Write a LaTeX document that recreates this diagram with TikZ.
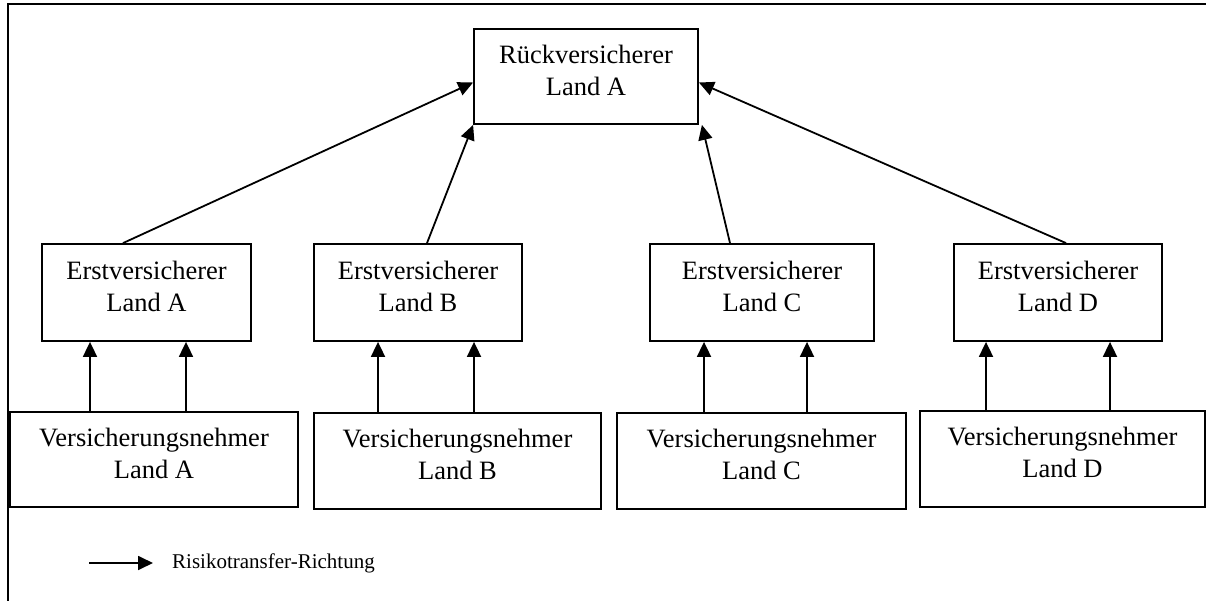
\documentclass[tikz,border=0pt]{standalone}
\usepackage{fontspec}
\setmainfont{Liberation Serif}
\usepackage{tikz}
\usetikzlibrary{arrows.meta, positioning, calc}

\begin{document}
\begin{tikzpicture}[
    x=1pt, y=-1pt,
    font=\fontsize{26.5}{32}\selectfont,
    >={Triangle[length=15pt, width=14pt]},
    box/.style={draw, line width=1.8pt, inner sep=0pt, align=center, text depth=13pt},
    rbox/.style={box, minimum width=224pt, minimum height=95pt},
    ebox/.style={box, minimum width=208pt, minimum height=97pt},
    vbox/.style={box, minimum width=287pt, minimum height=96pt},
    line/.style={->, line width=1.8pt},
    frame/.style={line width=2pt},
    legendtext/.style={font=\fontsize{21}{25}\selectfont, inner sep=0pt, anchor=west}
]
\useasboundingbox (0,0) rectangle (1206,601);

% ===== FRAME =====
\draw[frame] (8,601) -- (8,4) -- (1206,4);

% ===== TOP =====
\node[rbox] (rueck) at (586,76.5) {R\"uckversicherer\\Land A};

% ===== ERSTVERSICHERER =====
\node[ebox, minimum width=209pt] (erstA) at (146.5,292.5) {Erstversicherer\\Land A};
\node[ebox] (erstB) at (418,292.5) {Erstversicherer\\Land B};
\node[ebox, minimum width=224pt] (erstC) at (762,292.5) {Erstversicherer\\Land C};
\node[ebox] (erstD) at (1058,292.5) {Erstversicherer\\Land D};

% ===== VERSICHERUNGSNEHMER =====
\node[vbox, minimum width=288pt, minimum height=95pt] (vnA) at (154,459.5) {Versicherungsnehmer\\Land A};
\node[vbox] (vnB) at (457.5,461) {Versicherungsnehmer\\Land B};
\node[vbox, minimum width=289pt] (vnC) at (761.5,461) {Versicherungsnehmer\\Land C};
\node[vbox, minimum width=285pt] (vnD) at (1062.5,459) {Versicherungsnehmer\\Land D};

% ===== LEGEND =====
\coordinate (legS) at (89,563);
\coordinate (legE) at (153,563);
\node[legendtext, right=19pt of legE] (legT) {Risikotransfer-Richtung};

% ===== CONNECTIONS =====
% Erstversicherer up to Rueckversicherer
\draw[line] ([xshift=-23.5pt]erstA.north) -- ([yshift=-6pt]rueck.west);
\draw[line] ([xshift=9pt]erstB.north) -- (rueck.south west);
\draw[line] ([xshift=-32pt]erstC.north) -- ([xshift=3pt]rueck.south east);
\draw[line] ([xshift=8pt]erstD.north) -- ([yshift=-6pt]rueck.east);

% Versicherungsnehmer up to Erstversicherer
\draw[line] ([xshift=-64pt]vnA.north) -- ([xshift=-64pt]vnA.north |- erstA.south);
\draw[line] ([xshift=32pt]vnA.north) -- ([xshift=32pt]vnA.north |- erstA.south);
\draw[line] ([xshift=-79.5pt]vnB.north) -- ([xshift=-79.5pt]vnB.north |- erstB.south);
\draw[line] ([xshift=16.5pt]vnB.north) -- ([xshift=16.5pt]vnB.north |- erstB.south);
\draw[line] ([xshift=-57.5pt]vnC.north) -- ([xshift=-57.5pt]vnC.north |- erstC.south);
\draw[line] ([xshift=45.5pt]vnC.north) -- ([xshift=45.5pt]vnC.north |- erstC.south);
\draw[line] ([xshift=-76.5pt]vnD.north) -- ([xshift=-76.5pt]vnD.north |- erstD.south);
\draw[line] ([xshift=47.5pt]vnD.north) -- ([xshift=47.5pt]vnD.north |- erstD.south);

% Legend arrow
\draw[line] (legS) -- (legE);

\end{tikzpicture}
\end{document}
